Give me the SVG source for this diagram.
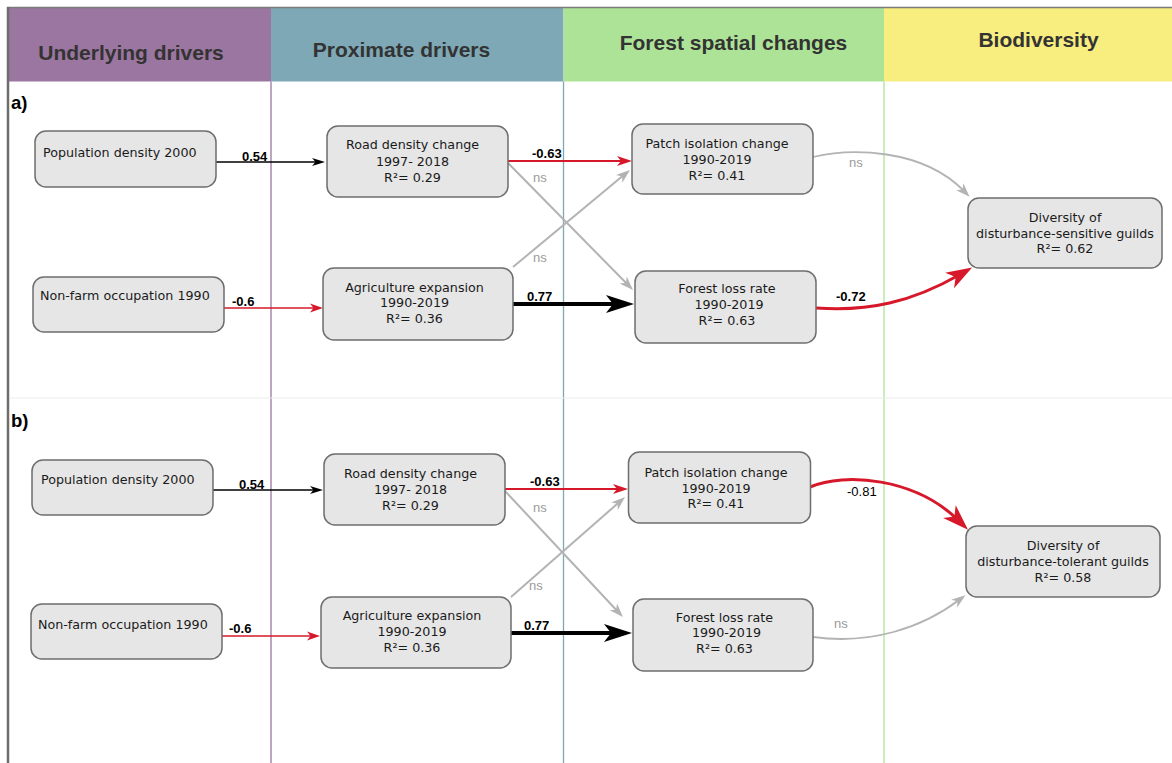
<svg xmlns="http://www.w3.org/2000/svg" width="1172" height="763" viewBox="0 0 1172 763">
<style>
.hdr{font-family:"Liberation Sans",Arial,sans-serif;font-weight:bold;font-size:21px;fill:#333;text-anchor:middle}
.box{fill:#e6e6e6;stroke:#6e6e6e;stroke-width:1.5}
.nt{font-family:"DejaVu Sans",Verdana,sans-serif;font-size:12.7px;fill:#1a1a1a}
.ntc{font-family:"DejaVu Sans",Verdana,sans-serif;font-size:12.7px;fill:#1a1a1a;text-anchor:middle}
.coef{font-family:"Liberation Sans",Arial,sans-serif;font-weight:bold;font-size:13px;fill:#000}
.coefr{font-family:"Liberation Sans",Arial,sans-serif;font-size:13px;fill:#000}
.ns{font-family:"Liberation Sans",Arial,sans-serif;font-size:13px;fill:#9a9a9a}
.pl{font-family:"Liberation Sans",Arial,sans-serif;font-weight:bold;font-size:18.5px;fill:#000}
.e{fill:none}
.blk{stroke:#000}
.red{stroke:#d7182a}
.gry{stroke:#b3b3b3}
</style>
<defs>
<marker id="mbs" markerUnits="userSpaceOnUse" viewBox="-14 -6 16 12" markerWidth="16" markerHeight="12" refX="-8" refY="0" orient="auto"><path d="M0,0 L-13,-4 L-9.5,0 L-13,4 Z" fill="#000"/></marker>
<marker id="mrs" markerUnits="userSpaceOnUse" viewBox="-14 -6 16 12" markerWidth="16" markerHeight="12" refX="-8" refY="0" orient="auto"><path d="M0,0 L-13,-4.5 L-9.5,0 L-13,4.5 Z" fill="#d7182a"/></marker>
<marker id="mrm" markerUnits="userSpaceOnUse" viewBox="-16 -6 18 12" markerWidth="18" markerHeight="12" refX="-9" refY="0" orient="auto"><path d="M0,0 L-15,-5 L-11,0 L-15,5 Z" fill="#d7182a"/></marker>
<marker id="mgs" markerUnits="userSpaceOnUse" viewBox="-16 -6 18 12" markerWidth="18" markerHeight="12" refX="-8" refY="0" orient="auto"><path d="M0,0 L-14,-5 L-10,0 L-14,5 Z" fill="#b3b3b3"/></marker>
<marker id="mbl" markerUnits="userSpaceOnUse" viewBox="-30 -10 32 20" markerWidth="32" markerHeight="20" refX="-16" refY="0" orient="auto"><path d="M0,0 L-28,-9 L-21,0 L-28,9 Z" fill="#000"/></marker>
<marker id="mrl" markerUnits="userSpaceOnUse" viewBox="-28 -10 30 20" markerWidth="30" markerHeight="20" refX="-14" refY="0" orient="auto"><path d="M0,0 L-26,-9 L-19,0 L-26,9 Z" fill="#d7182a"/></marker>
</defs>

<g id="background">
<rect x="0" y="0" width="1172" height="763" fill="#fff"/>
<rect x="8" y="7.5" width="263" height="74" fill="#9b76a0"/>
<rect x="271" y="7.5" width="292.5" height="74" fill="#7ea8b6"/>
<rect x="563.5" y="7.5" width="320.5" height="74" fill="#ade397"/>
<rect x="884" y="7.5" width="288" height="74" fill="#f8ed7f"/>
<line x1="7" y1="7.5" x2="1172" y2="7.5" stroke="#7a7a7a" stroke-width="1.5"/>
<line x1="8" y1="7" x2="8" y2="763" stroke="#6d6d6d" stroke-width="2.5"/>
<line x1="271" y1="81.5" x2="271" y2="763" stroke="#9b76a0" stroke-width="1.3"/>
<line x1="563.5" y1="81.5" x2="563.5" y2="763" stroke="#7ea8b6" stroke-width="1.3"/>
<line x1="884" y1="81.5" x2="884" y2="763" stroke="#ade397" stroke-width="1.3"/>
<line x1="9.5" y1="398" x2="1172" y2="398" stroke="#ececec" stroke-width="1"/>
<text class="hdr" x="131" y="60">Underlying drivers</text>
<text class="hdr" x="401.5" y="57">Proximate drivers</text>
<text class="hdr" x="733.5" y="50">Forest spatial changes</text>
<text class="hdr" x="1038.5" y="47">Biodiversity</text>
<text class="pl" x="11" y="109">a)</text>
<text class="pl" x="11" y="427">b)</text>
</g>

<g id="connectors">
<!-- panel a -->
<path class="e blk" stroke-width="1.3" d="M216,162 L317,162" marker-end="url(#mbs)"/>
<path class="e red" stroke-width="1.5" d="M224,308 L315,308" marker-end="url(#mrs)"/>
<path class="e red" stroke-width="2" d="M508,161 L623,161" marker-end="url(#mrm)"/>
<path class="e gry" stroke-width="2" d="M508,163 L627.4,284.3" marker-end="url(#mgs)"/>
<path class="e gry" stroke-width="2" d="M513,267 L623.8,175.1" marker-end="url(#mgs)"/>
<path class="e blk" stroke-width="4" d="M513,304 L618,304" marker-end="url(#mbl)"/>
<path class="e gry" stroke-width="1.8" d="M813,157 C850,148 922,148 964,191" marker-end="url(#mgs)"/>
<path class="e red" stroke-width="3" d="M816,308 C868,312 912,302 960,274.5" marker-end="url(#mrl)"/>
<text class="coef" x="242" y="161">0.54</text>
<text class="coef" x="232" y="305.5">-0.6</text>
<text class="coef" x="532" y="158">-0.63</text>
<text class="ns" x="533" y="182">ns</text>
<text class="ns" x="533" y="262">ns</text>
<text class="coef" x="527" y="301">0.77</text>
<text class="ns" x="849" y="167">ns</text>
<text class="coef" x="836" y="300.5">-0.72</text>
<!-- panel b -->
<path class="e blk" stroke-width="1.3" d="M213,490 L315,490" marker-end="url(#mbs)"/>
<path class="e red" stroke-width="1.5" d="M222,636 L312,636" marker-end="url(#mrs)"/>
<path class="e red" stroke-width="2" d="M505,489 L619,489" marker-end="url(#mrm)"/>
<path class="e gry" stroke-width="2" d="M505,491 L617.5,611.2" marker-end="url(#mgs)"/>
<path class="e gry" stroke-width="2" d="M511,597 L619,502.3" marker-end="url(#mgs)"/>
<path class="e blk" stroke-width="4" d="M511,633 L616,633" marker-end="url(#mbl)"/>
<path class="e red" stroke-width="3" d="M810,487 C845,472 915,478 958,520" marker-end="url(#mrl)"/>
<path class="e gry" stroke-width="1.8" d="M813,637 C870,645 922,628 959,600" marker-end="url(#mgs)"/>
<text class="coef" x="239" y="489">0.54</text>
<text class="coef" x="229" y="633">-0.6</text>
<text class="coef" x="530" y="486">-0.63</text>
<text class="ns" x="533" y="512">ns</text>
<text class="ns" x="529" y="590">ns</text>
<text class="coef" x="524" y="630">0.77</text>
<text class="coefr" x="847" y="496">-0.81</text>
<text class="ns" x="834" y="628">ns</text>
</g>

<g id="a-pop"><rect class="box" x="35" y="131" width="181" height="56" rx="11"/><text class="nt" x="43" y="157">Population density 2000</text></g>
<g id="a-nonfarm"><rect class="box" x="33" y="277" width="191" height="55" rx="11"/><text class="nt" x="40" y="300">Non-farm occupation 1990</text></g>
<g id="a-road"><rect class="box" x="327" y="126" width="181" height="71" rx="11"/><text class="ntc" x="412.5" y="149">Road density change</text><text class="ntc" x="412.5" y="165.5">1997- 2018</text><text class="ntc" x="412.5" y="181.5">R²= 0.29</text></g>
<g id="a-agri"><rect class="box" x="323" y="268" width="190" height="72" rx="11"/><text class="ntc" x="414.5" y="291.5">Agriculture expansion</text><text class="ntc" x="414.5" y="307">1990-2019</text><text class="ntc" x="414.5" y="323">R²= 0.36</text></g>
<g id="a-patch"><rect class="box" x="632" y="124" width="181" height="70" rx="11"/><text class="ntc" x="717" y="148.3">Patch isolation change</text><text class="ntc" x="717" y="164.3">1990-2019</text><text class="ntc" x="717" y="180">R²= 0.41</text></g>
<g id="a-forest"><rect class="box" x="635" y="271" width="181" height="72" rx="11"/><text class="ntc" x="727" y="293.3">Forest loss rate</text><text class="ntc" x="729" y="309">1990-2019</text><text class="ntc" x="727" y="324.5">R²= 0.63</text></g>
<g id="a-div"><rect class="box" x="968" y="198" width="194" height="70" rx="11"/><text class="ntc" x="1065" y="221.7">Diversity of</text><text class="ntc" x="1065" y="237.7">disturbance-sensitive guilds</text><text class="ntc" x="1065" y="253.3">R²= 0.62</text></g>

<g id="b-pop"><rect class="box" x="32" y="460" width="181" height="55" rx="11"/><text class="nt" x="41" y="484">Population density 2000</text></g>
<g id="b-nonfarm"><rect class="box" x="31" y="604" width="191" height="55" rx="11"/><text class="nt" x="38" y="628.5">Non-farm occupation 1990</text></g>
<g id="b-road"><rect class="box" x="324" y="454" width="181" height="71" rx="11"/><text class="ntc" x="410.5" y="478.3">Road density change</text><text class="ntc" x="410.5" y="494">1997- 2018</text><text class="ntc" x="410.5" y="510">R²= 0.29</text></g>
<g id="b-agri"><rect class="box" x="321" y="597" width="190" height="71" rx="11"/><text class="ntc" x="412" y="620">Agriculture expansion</text><text class="ntc" x="412" y="636">1990-2019</text><text class="ntc" x="412" y="652">R²= 0.36</text></g>
<g id="b-patch"><rect class="box" x="628.5" y="452" width="182" height="71" rx="11"/><text class="ntc" x="716" y="476.7">Patch isolation change</text><text class="ntc" x="716" y="492.7">1990-2019</text><text class="ntc" x="716" y="508.3">R²= 0.41</text></g>
<g id="b-forest"><rect class="box" x="633" y="599" width="180" height="72" rx="11"/><text class="ntc" x="724.5" y="621.7">Forest loss rate</text><text class="ntc" x="726.5" y="637.3">1990-2019</text><text class="ntc" x="724.5" y="653.3">R²= 0.63</text></g>
<g id="b-div"><rect class="box" x="966" y="526" width="194" height="71" rx="11"/><text class="ntc" x="1063" y="550">Diversity of</text><text class="ntc" x="1063" y="565.7">disturbance-tolerant guilds</text><text class="ntc" x="1063" y="581.7">R²= 0.58</text></g>
</svg>
